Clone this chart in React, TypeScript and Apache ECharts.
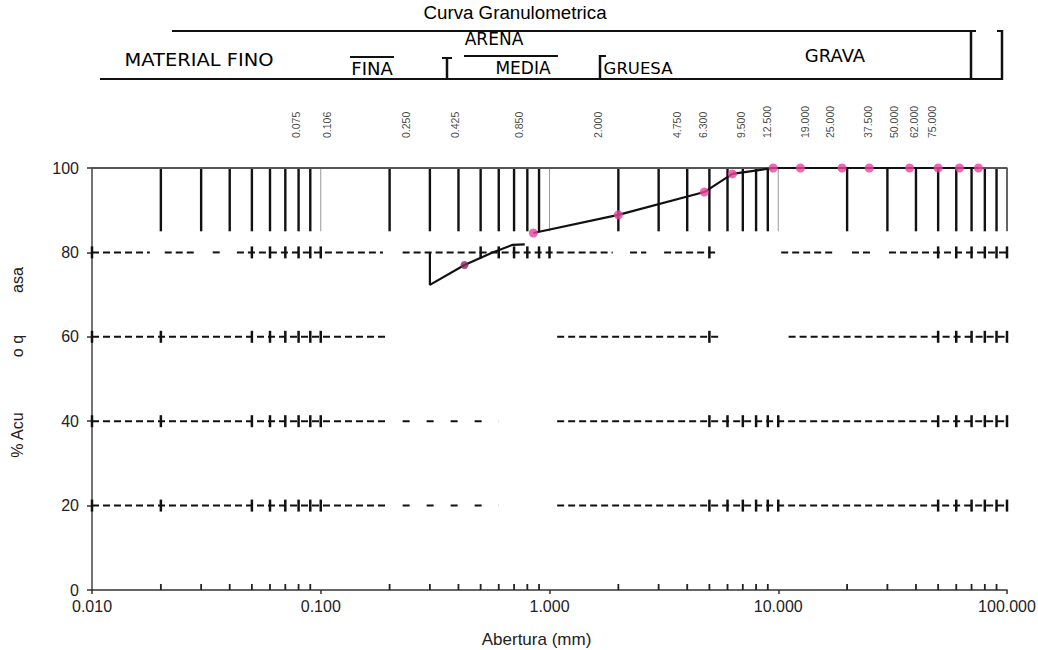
import React, { useEffect, useRef } from "react";
import * as echarts from "echarts";

// ---------- data ----------
const sieveSizes = [0.075, 0.106, 0.25, 0.425, 0.85, 2, 4.75, 6.3, 9.5, 12.5, 19, 25, 37.5, 50, 62, 75];
const sieveLabels = ["0.075", "0.106", "0.250", "0.425", "0.850", "2.000", "4.750", "6.300", "9.500", "12.500", "19.000", "25.000", "37.500", "50.000", "62.000", "75.000"];

const lowerCurveSizes = [0.3, 0.3, 0.425, 0.56, 0.69, 0.78];
const lowerCurvePassing = [80, 72.3, 77, 79.9, 81.8, 81.9];
const lowerMarkerSizes = [0.425];
const lowerMarkerPassing = [77];

const upperCurveSizes = [0.85, 2, 4.75, 6.3, 9.5, 12.5, 19, 25, 37.5, 50, 62, 75];
const upperCurvePassing = [84.6, 88.9, 94.3, 98.6, 100, 100, 100, 100, 100, 100, 100, 100];

const minorGridSizes = [0.02, 0.03, 0.04, 0.05, 0.06, 0.07, 0.08, 0.09, 0.2, 0.3, 0.4, 0.5, 0.6, 0.7, 0.8, 0.9, 2, 3, 4, 5, 6, 7, 8, 9, 20, 30, 40, 50, 60, 70, 80, 90];
const decadeSizes = [0.1, 1, 10];
const stripBottom = 85;

// each range: [from, to, style]  style 0 = dense dashes, 1 = sparse dashes
const dashRowLevels = [80, 60, 40, 20];
const dashRowRanges: number[][][] = [
  [[0.01, 0.0179, 0], [0.0208, 0.0287, 0], [0.0337, 0.0362, 0], [0.043, 0.187, 0], [0.228, 1.89, 0], [2.25, 2.65, 0], [3.17, 5.34, 0], [10.3, 17.8, 0], [21.0, 25.6, 0], [30.5, 100, 0]],
  [[0.01, 0.197, 0], [1.08, 5.6, 0], [11.1, 100, 0]],
  [[0.01, 0.197, 0], [0.228, 0.6, 1], [1.08, 100, 0]],
  [[0.01, 0.197, 0], [0.228, 0.6, 1], [1.08, 100, 0]],
];
const crossSizes = [0.01, 0.02, 0.05, 0.06, 0.07, 0.08, 0.09, 0.1, 0.5, 0.6, 0.7, 0.8, 0.9, 1, 5, 6, 7, 8, 9, 10, 50, 60, 70, 80, 90, 100];

const yMin = 0;
const yMax = 100;
const yStep = 20;
const xMin = 0.01;
const xMax = 100;

// ---------- helpers ----------
const FONT = "'Liberation Sans', Arial, sans-serif";
const HFONT = "'DejaVu Sans', Verdana, sans-serif";

const dashData: number[][] = [];
const crossData: number[][] = [];
dashRowLevels.forEach((lvl, i) => {
  dashRowRanges[i].forEach(([a, b, st]) => dashData.push([a, lvl, b, st]));
  crossSizes.forEach((s) => {
    if (dashRowRanges[i].some(([a, b, st]) => st === 0 && s >= a * 0.999 && s <= b * 1.001)) crossData.push([s, lvl]);
  });
});

const vLine = (color: string, width: number) => (params: any, api: any) => {
  const p1 = api.coord([api.value(0), api.value(1)]);
  const p2 = api.coord([api.value(0), api.value(2)]);
  return { type: "line", shape: { x1: p1[0], y1: p1[1], x2: p2[0], y2: p2[1] }, style: { stroke: color, lineWidth: width } };
};

const hText = (text: string, x: number, y: number, size: number, extra: any = {}, family = HFONT) => ({
  type: "text",
  x,
  y,
  ...extra,
  style: {
    text,
    font: `${size}px ${family}`,
    fill: "#000",
    align: "center",
    verticalAlign: "middle",
    textAlign: "center",
    textVerticalAlign: "middle",
  },
});
const gLine = (x1: number, y1: number, x2: number, y2: number, w = 2) => ({
  type: "line",
  shape: { x1, y1, x2, y2 },
  style: { stroke: "#111", lineWidth: w },
});
const yName = (text: string, y: number) => ({
  type: "text",
  x: 17,
  y,
  rotation: Math.PI / 2,
  style: {
    text,
    font: `16px ${FONT}`,
    fill: "#222",
    align: "center",
    verticalAlign: "middle",
    textAlign: "center",
    textVerticalAlign: "middle",
  },
});

const option: any = {
  animation: false,
  backgroundColor: "#fff",
  textStyle: { fontFamily: FONT },
  grid: [
    { left: 92, right: 31, top: 168, bottom: 60, containLabel: false, outerBoundsMode: "none" },
    { left: 110, right: 80, top: 120, height: 18, containLabel: false, outerBoundsMode: "none" },
  ],
  xAxis: [
    {
      type: "log",
      logBase: 10,
      min: xMin,
      max: xMax,
      gridIndex: 0,
      axisLine: { lineStyle: { color: "#333", width: 1.5 } },
      axisTick: { show: true, length: 4, lineStyle: { color: "#333", width: 1.5 } },
      axisLabel: { fontSize: 16, color: "#222", margin: 8, formatter: (v: number) => v.toFixed(3) },
      splitLine: { show: false },
      name: "Abertura (mm)",
      nameLocation: "middle",
      nameGap: 41,
      nameTextStyle: { fontSize: 17, color: "#222", padding: [0, 26, 0, 0] },
    },
    { type: "log", logBase: 10, min: xMin, max: xMax, gridIndex: 1, show: false },
  ],
  yAxis: [
    {
      type: "value",
      min: yMin,
      max: yMax,
      interval: yStep,
      gridIndex: 0,
      axisLine: { show: true, lineStyle: { color: "#444", width: 1.5 } },
      axisTick: { show: true, length: 5, lineStyle: { color: "#333", width: 1.5 } },
      axisLabel: { fontSize: 16, color: "#222", margin: 13 },
      splitLine: { show: false },
    },
    { type: "value", min: 0, max: 1, gridIndex: 1, show: false },
  ],
  graphic: [
    hText("Curva Granulometrica", 515, 13, 18, { scaleX: 1.04 }, FONT),
    gLine(172, 31, 971, 31),
    gLine(100, 79, 1003, 79),
    gLine(971, 30, 971, 80, 2.5),
    gLine(966, 31, 976, 31),
    gLine(966, 79, 976, 79),
    gLine(1002, 30, 1002, 80, 2.5),
    gLine(997, 31, 1003, 31),
    gLine(997, 79, 1003, 79),
    hText("MATERIAL FINO", 199, 60, 18, { scaleX: 1.08 }),
    hText("FINA", 372, 68, 18),
    gLine(350, 57, 394, 57),
    gLine(447, 57, 447, 80, 2.5),
    gLine(442, 58, 452, 58),
    hText("ARENA", 494, 39, 17),
    gLine(464, 56, 558, 56),
    hText("MEDIA", 523, 68, 17),
    gLine(600, 55, 600, 80, 2.5),
    gLine(600, 56, 606, 56),
    hText("GRUESA", 638, 68, 16.5),
    hText("GRAVA", 835, 55, 18),
    yName("% Acu", 435),
    yName("o q", 346),
    yName("asa", 280),
  ],
  series: [
    {
      type: "line",
      xAxisIndex: 0,
      yAxisIndex: 0,
      data: [[xMin, yMax], [xMax, yMax], [xMax, stripBottom]],
      symbol: "none",
      lineStyle: { color: "#555", width: 1.8 },
      silent: true,
      z: 3,
    },
    {
      type: "custom",
      xAxisIndex: 0,
      yAxisIndex: 0,
      data: minorGridSizes.map((v) => [v, stripBottom, yMax]),
      encode: { x: 0, y: 1 },
      renderItem: vLine("#111", 2.4),
      silent: true,
      z: 2,
    },
    {
      type: "custom",
      xAxisIndex: 0,
      yAxisIndex: 0,
      data: decadeSizes.map((v) => [v, stripBottom, yMax]),
      encode: { x: 0, y: 1 },
      renderItem: vLine("#999", 1),
      silent: true,
      z: 2,
    },
    {
      type: "custom",
      xAxisIndex: 0,
      yAxisIndex: 0,
      data: dashData,
      encode: { x: 0, y: 1 },
      renderItem: (params: any, api: any) => {
        const p1 = api.coord([api.value(0), api.value(1)]);
        const p2 = api.coord([api.value(2), api.value(1)]);
        const sparse = api.value(3) === 1;
        return {
          type: "line",
          shape: { x1: p1[0], y1: p1[1], x2: p2[0], y2: p2[1] },
          style: { stroke: "#111", lineWidth: 2, lineDash: sparse ? [7, 17] : [7, 4] },
        };
      },
      silent: true,
      z: 2,
    },
    {
      type: "custom",
      xAxisIndex: 0,
      yAxisIndex: 0,
      data: crossData,
      encode: { x: 0, y: 1 },
      renderItem: (params: any, api: any) => {
        const p = api.coord([api.value(0), api.value(1)]);
        return {
          type: "line",
          shape: { x1: p[0], y1: p[1] - 6, x2: p[0], y2: p[1] + 6 },
          style: { stroke: "#111", lineWidth: 2.5 },
        };
      },
      silent: true,
      z: 2,
    },
    {
      type: "custom",
      xAxisIndex: 0,
      yAxisIndex: 0,
      data: minorGridSizes.map((v) => [v, yMin]),
      encode: { x: 0, y: 1 },
      renderItem: (params: any, api: any) => {
        const p = api.coord([api.value(0), api.value(1)]);
        return {
          type: "line",
          shape: { x1: p[0], y1: p[1], x2: p[0], y2: p[1] - 6 },
          style: { stroke: "#222", lineWidth: 1.8 },
        };
      },
      silent: true,
      z: 2,
    },
    {
      type: "line",
      xAxisIndex: 0,
      yAxisIndex: 0,
      data: lowerCurveSizes.map((v, i) => [v, lowerCurvePassing[i]]),
      symbol: "none",
      lineStyle: { color: "#111", width: 2.2 },
      z: 4,
    },
    {
      type: "line",
      xAxisIndex: 0,
      yAxisIndex: 0,
      data: upperCurveSizes.map((v, i) => [v, upperCurvePassing[i]]),
      symbol: "none",
      lineStyle: { color: "#111", width: 2.2 },
      z: 4,
    },
    {
      type: "scatter",
      xAxisIndex: 0,
      yAxisIndex: 0,
      data: upperCurveSizes.map((v, i) => [v, upperCurvePassing[i]]),
      symbol: "circle",
      symbolSize: 9,
      itemStyle: { color: "#e8449c" },
      z: 5,
    },
    {
      type: "scatter",
      xAxisIndex: 0,
      yAxisIndex: 0,
      data: lowerMarkerSizes.map((v, i) => [v, lowerMarkerPassing[i]]),
      symbol: "circle",
      symbolSize: 8,
      itemStyle: { color: "#8a2a62" },
      z: 5,
    },
    {
      type: "scatter",
      xAxisIndex: 1,
      yAxisIndex: 1,
      data: sieveSizes.map((v, i) => ({ value: [v, 0], name: sieveLabels[i] })),
      symbolSize: 1,
      itemStyle: { color: "rgba(0,0,0,0)" },
      label: {
        show: true,
        position: "inside",
        rotate: 90,
        align: "left",
        verticalAlign: "middle",
        fontSize: 10.5,
        color: "#111",
        formatter: (p: any) => p.name,
      },
      silent: true,
    },
  ],
};

export default function App() {
  const ref = useRef<HTMLDivElement>(null);
  useEffect(() => {
    const chart = echarts.init(ref.current!, null, { renderer: "svg" });
    chart.setOption(option);
    return () => chart.dispose();
  }, []);
  return (
    <div
      ref={ref}
      style={{ position: "absolute", left: 0, top: 0, width: 1038, height: 650, background: "#fff" }}
    />
  );
}
